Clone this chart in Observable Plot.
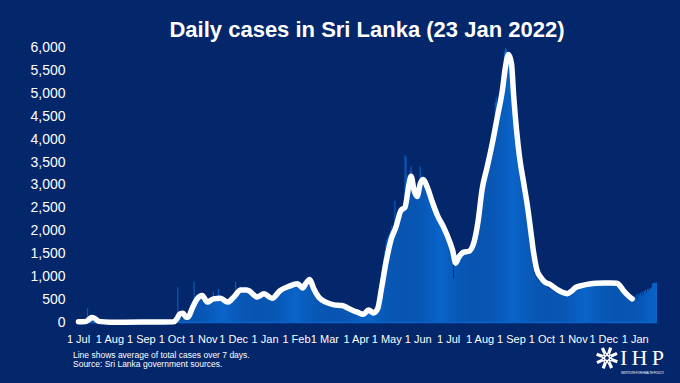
<!DOCTYPE html>
<html><head><meta charset="utf-8">
<script src="https://cdn.jsdelivr.net/npm/d3@7"></script>
<script src="https://cdn.jsdelivr.net/npm/@observablehq/plot@0.6"></script>
<style>
html,body{margin:0;padding:0;background:#04266b;}
#chart{position:relative;width:680px;height:383px;overflow:hidden;}
#chart svg g[aria-label^="y-axis"] text{font-size:14px !important;}
#chart svg g[aria-label^="x-axis"] text{font-size:11px !important;}
</style></head>
<body><div id="chart"></div>
<script>
const titleText = "Daily cases in Sri Lanka (23 Jan 2022)";
const footerLines = ["Line shows average of total cases over 7 days.", "Source: Sri Lanka government sources."];

// Month starts for the daily case arrays
const monthStarts = ["2020-07-01","2020-08-01","2020-09-01","2020-10-01","2020-11-01","2020-12-01",
  "2021-01-01","2021-02-01","2021-03-01","2021-04-01","2021-05-01","2021-06-01",
  "2021-07-01","2021-08-01","2021-09-01","2021-10-01","2021-11-01","2021-12-01","2022-01-01"];

// Daily cases
const casesJul20 = [8,10,6,12,9,7,5,10,60,300,90,40,50,60,35,14,12,9,7,6,5,8,10,4,6,5,7,9,6,8,5];
const casesAug20 = [5,8,4,6,7,3,9,10,5,4,6,12,8,5,7,10,6,4,9,5,8,7,11,6,4,5,9,8,6,10,7];
const casesSep20 = [8,6,9,12,7,5,10,14,8,6,9,11,7,5,12,8,10,6,9,14,8,7,11,6,9,13,10,8,12,15];
const casesOct20 = [5,8,10,12,60,90,760,120,80,95,110,70,85,60,90,110,180,250,320,400,430,470,880,520,560,600,540,620,580,640,600];
const casesNov20 = [470,420,400,430,450,440,480,460,500,490,660,470,480,500,510,720,490,470,520,500,480,460,440,430,420,450,470,430,480,500];
const casesDec20 = [520,560,880,600,650,680,700,770,720,700,690,730,710,700,680,660,650,620,600,580,570,560,550,540,580,600,610,620,640,630,600];
const casesJan21 = [600,590,570,550,540,530,520,510,540,560,600,620,650,680,700,710,720,740,760,770,780,790,780,790,800,810,820,830,820,840,850];
const casesFeb21 = [850,840,820,780,760,740,750,800,840,870,900,920,960,1000,900,800,740,700,650,600,580,560,540,520,500,480,470,460];
const casesMar21 = [450,440,430,420,410,400,390,385,380,390,380,370,380,375,370,360,370,365,350,340,330,320,310,300,300,290,280,270,260,250,240];
const casesApr21 = [230,220,210,200,190,180,175,170,185,200,230,260,300,280,250,220,200,190,210,240,300,400,600,800,950,1100,1250,1400,1550,1700];
const casesMay21 = [1800,1850,1900,1950,2000,2100,2000,1950,2650,2100,2200,2300,2400,2450,2500,2300,2400,2500,3640,3600,3200,3000,3100,3300,3400,3100,2900,2800,2700,2900,2800];
const casesJun21 = [2900,3000,3400,3200,3100,3150,3050,3000,2950,2900,2800,2750,2700,2650,2600,2550,2500,2450,2400,2350,2300,2250,2200,2150,2100,2050,2000,1950,1900,1850];
const casesJul21 = [1800,1750,1700,1650,1400,950,1300,1250,1350,1400,1450,1500,1520,1480,1550,1530,1560,1540,1520,1580,1600,1620,1650,1700,1750,1800,1900,2000,2100,2250,2400];
const casesAug21 = [2600,2750,2900,3000,3100,3200,3300,3350,3400,3500,3600,3700,3800,3900,4300,4800,4900,4600,4500,4700,4900,5000,5200,5400,5900,5970,5950,5800,5700,5600,5500];
const casesSep21 = [5500,5100,4700,4300,4000,3800,3600,3450,3300,3200,3050,2950,2850,2700,2550,2400,2200,2000,1800,1600,1400,1250,1150,1050,1000,960,930,910,890,870];
const casesOct21 = [850,830,820,800,780,760,750,740,730,720,700,690,680,670,660,650,640,630,620,610,600,590,600,620,640,660,680,700,720,740,760];
const casesNov21 = [770,780,790,790,800,800,810,810,820,820,830,830,840,840,840,850,850,850,850,860,860,860,860,860,860,860,860,860,860,860];
const casesDec21 = [860,860,860,860,860,860,860,860,860,860,860,860,860,860,850,840,800,760,720,700,680,660,640,620,600,580,560,540,520,410,560];
const casesJan22 = [540,600,480,620,580,640,560,660,600,680,700,640,720,700,740,720,760,840,850,860,850,860];

const monthlyCases = [casesJul20,casesAug20,casesSep20,casesOct20,casesNov20,casesDec20,casesJan21,casesFeb21,casesMar21,
  casesApr21,casesMay21,casesJun21,casesJul21,casesAug21,casesSep21,casesOct21,casesNov21,casesDec21,casesJan22];

// 7-day average line
const avgDates = ["2020-07-01","2020-07-08","2020-07-11","2020-07-14","2020-07-17","2020-07-21","2020-08-01","2020-08-15","2020-09-01","2020-09-20",
  "2020-10-03","2020-10-06","2020-10-09","2020-10-12","2020-10-15","2020-10-17","2020-10-21","2020-10-26","2020-10-31",
  "2020-11-05","2020-11-11","2020-11-18","2020-11-25","2020-12-01","2020-12-08","2020-12-14","2020-12-17","2020-12-21","2020-12-24","2020-12-31",
  "2021-01-08","2021-01-16","2021-01-24","2021-02-02","2021-02-07","2021-02-10","2021-02-14","2021-02-18","2021-02-23",
  "2021-03-02","2021-03-10","2021-03-18","2021-03-25","2021-04-02","2021-04-08","2021-04-13","2021-04-18","2021-04-22","2021-04-26","2021-04-30",
  "2021-05-05","2021-05-10","2021-05-15","2021-05-19","2021-05-23","2021-05-25","2021-05-28","2021-05-31",
  "2021-06-03","2021-06-06","2021-06-10","2021-06-15","2021-06-20","2021-06-26",
  "2021-07-01","2021-07-05","2021-07-08","2021-07-11","2021-07-16","2021-07-21","2021-07-26","2021-07-30",
  "2021-08-03","2021-08-08","2021-08-13","2021-08-18","2021-08-23","2021-08-26","2021-08-29",
  "2021-09-01","2021-09-03","2021-09-06","2021-09-09","2021-09-13","2021-09-17","2021-09-20","2021-09-23","2021-09-26","2021-09-30",
  "2021-10-04","2021-10-09","2021-10-16","2021-10-22","2021-10-26","2021-10-30",
  "2021-11-03","2021-11-10","2021-11-17","2021-11-24","2021-12-01","2021-12-08","2021-12-14","2021-12-17","2021-12-21","2021-12-25","2021-12-29"];
const avgValues = [15,20,60,110,90,25,8,8,10,12,
  15,80,190,200,120,115,300,515,590,
  445,515,530,445,550,710,710,680,600,555,625,
  530,700,785,845,755,845,940,735,550,
  445,385,370,300,225,180,275,210,300,770,1280,
  1790,2080,2445,2515,3025,3190,2880,2750,
  3025,3120,2950,2625,2335,2080,
  1825,1570,1295,1425,1535,1555,1750,2200,
  2900,3390,3900,4480,5060,5570,5850,
  5650,5000,4200,3600,3050,2500,2000,1500,1150,980,
  880,830,720,650,630,680,
  760,810,840,855,860,860,855,800,680,590,515];

const yTicks = [0,500,1000,1500,2000,2500,3000,3500,4000,4500,5000,5500,6000];
const xTickDates = ["2020-07-01","2020-08-01","2020-09-01","2020-10-01","2020-11-01","2020-12-01","2021-01-01","2021-02-01","2021-03-01",
  "2021-04-01","2021-05-01","2021-06-01","2021-07-01","2021-08-01","2021-09-01","2021-10-01","2021-11-01","2021-12-01","2022-01-01"];

const bars = monthlyCases.flatMap((arr, m) => arr.map((v, i) => {
  const d = d3.utcDay.offset(new Date(monthStarts[m]), i);
  return {date: d, end: d3.utcDay.offset(d, 1), cases: v};
}));
const avg = avgDates.map((s, i) => ({date: new Date(s), value: avgValues[i]}));

const barColor = "#0b65c9";
const commaFormat = d3.format(",");

const chart = Plot.plot({
  width: 680, height: 383,
  marginLeft: 78, marginRight: 23, marginTop: 47, marginBottom: 61,
  style: {background: "transparent", color: "white", fontFamily: "'Liberation Sans', Arial, Helvetica, sans-serif", overflow: "visible"},
  x: {type: "utc", domain: [new Date("2020-07-01"), new Date("2022-01-23")], ticks: xTickDates.map(s => new Date(s)),
      tickFormat: d3.utcFormat("%-d %b"), tickSize: 0, tickPadding: 13, label: null},
  y: {domain: [0, 6000], ticks: yTicks, tickFormat: d => commaFormat(d), tickSize: 0, tickPadding: 13, label: null},
  marks: [
    Plot.rectY(bars, {x1: "date", x2: "end", y: "cases", fill: barColor}),
    Plot.ruleY([0], {stroke: barColor, strokeWidth: 1.5}),
    Plot.line(avg, {x: "date", y: "value", stroke: "white", strokeWidth: 5.5, curve: "monotone-x", strokeLinejoin: "round", strokeLinecap: "round"})
  ]
});
document.getElementById("chart").appendChild(chart);

const svg = d3.select(chart);
svg.append("text").attr("x", 367).attr("y", 37).attr("text-anchor", "middle")
  .attr("font-size", 22).attr("font-weight", "bold").attr("fill", "white")
  .attr("font-family", "'Liberation Sans', Arial, sans-serif").text(titleText);
footerLines.forEach((t, i) => {
  svg.append("text").attr("x", 73).attr("y", 358 + i * 9).attr("text-anchor", "start").attr("font-size", 8.5).attr("fill", "white")
    .attr("font-family", "'Liberation Sans', Arial, sans-serif").text(t);
});
// IHP logo
const logo = svg.append("g").attr("fill", "white").attr("text-anchor", "start");
const cx = 607, cy = 358;
for (let k = 0; k < 8; k++) {
  const a = k * 45;
  logo.append("rect").attr("x", -1.6).attr("y", -11).attr("width", 3.2).attr("height", 6.5)
    .attr("transform", `translate(${cx},${cy}) rotate(${a + 20})`);
  logo.append("rect").attr("x", -1.1).attr("y", -5).attr("width", 2.2).attr("height", 3.2)
    .attr("transform", `translate(${cx},${cy}) rotate(${a})`);
}
logo.append("text").attr("x", 620).attr("y", 364.5).attr("font-size", 22).attr("text-anchor", "start")
  .attr("font-family", "'Liberation Serif', 'DejaVu Serif', serif").attr("textLength", 44).attr("lengthAdjust", "spacing").text("IHP");
logo.append("text").attr("x", 621).attr("y", 373.5).attr("font-size", 3).attr("text-anchor", "start")
  .attr("font-family", "'Liberation Sans', Arial, sans-serif").attr("textLength", 43).text("INSTITUTE FOR HEALTH POLICY");
</script></body></html>
